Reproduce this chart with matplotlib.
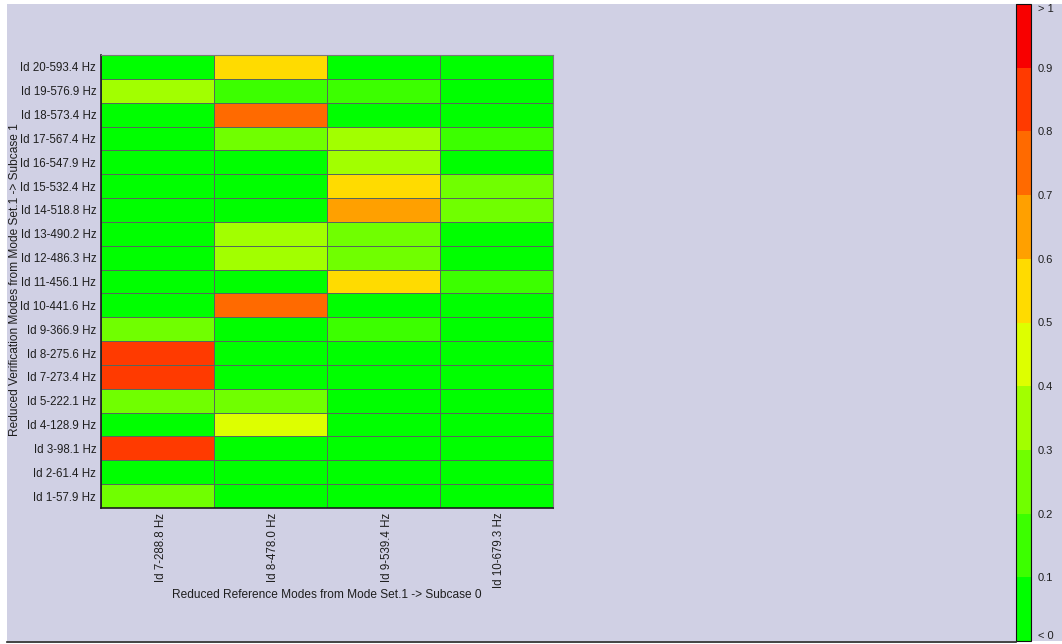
import numpy as np
import matplotlib
matplotlib.use("Agg")
import matplotlib.pyplot as plt
import matplotlib.transforms as mtransforms
from matplotlib.colors import ListedColormap, BoundaryNorm
from matplotlib.patches import Rectangle
from matplotlib.lines import Line2D

plt.rcParams["font.family"] = ["Liberation Sans", "DejaVu Sans"]

# Verification modes (rows, bottom to top) and reference modes (columns)
row_labels = ["Id 1-57.9 Hz", "Id 2-61.4 Hz", "Id 3-98.1 Hz", "Id 4-128.9 Hz",
              "Id 5-222.1 Hz", "Id 7-273.4 Hz", "Id 8-275.6 Hz", "Id 9-366.9 Hz",
              "Id 10-441.6 Hz", "Id 11-456.1 Hz", "Id 12-486.3 Hz", "Id 13-490.2 Hz",
              "Id 14-518.8 Hz", "Id 15-532.4 Hz", "Id 16-547.9 Hz", "Id 17-567.4 Hz",
              "Id 18-573.4 Hz", "Id 19-576.9 Hz", "Id 20-593.4 Hz"]
col_labels = ["Id 7-288.8 Hz", "Id 8-478.0 Hz", "Id 9-539.4 Hz", "Id 10-679.3 Hz"]

# MAC values per reference mode, ordered like row_labels
mac_id7 = [0.25, 0.03, 0.86, 0.05, 0.24, 0.85, 0.87, 0.22, 0.02, 0.01,
           0.04, 0.03, 0.02, 0.01, 0.03, 0.06, 0.02, 0.35, 0.04]
mac_id8 = [0.05, 0.02, 0.01, 0.45, 0.26, 0.03, 0.02, 0.06, 0.74, 0.04,
           0.36, 0.34, 0.02, 0.03, 0.05, 0.23, 0.76, 0.15, 0.55]
mac_id9 = [0.01, 0.02, 0.03, 0.01, 0.04, 0.02, 0.01, 0.13, 0.05, 0.56,
           0.25, 0.27, 0.66, 0.57, 0.33, 0.35, 0.04, 0.14, 0.02]
mac_id10 = [0.02, 0.01, 0.03, 0.02, 0.01, 0.03, 0.02, 0.04, 0.05, 0.17,
            0.06, 0.08, 0.24, 0.26, 0.07, 0.12, 0.03, 0.09, 0.05]

cbar_labels = ["< 0", "0.1", "0.2", "0.3", "0.4", "0.5", "0.6", "0.7", "0.8", "0.9", "> 1"]

band_colors = ["#00ff00", "#3cff00", "#70ff00", "#a2ff00", "#ddff00",
               "#ffdb00", "#ffa000", "#ff6a00", "#ff3a00", "#f80000"]
bounds = np.linspace(0.0, 1.0, 11)
cmap = ListedColormap(band_colors)
norm = BoundaryNorm(bounds, cmap.N)

mac = np.column_stack([mac_id7, mac_id8, mac_id9, mac_id10])

W, H = 1062, 644
fig = plt.figure(figsize=(W / 100, H / 100), dpi=100, facecolor="white")

# Panel background and bottom rule
fig.patches.append(Rectangle((7 / W, 3 / H), 1 - 7 / W, 1 - 7 / H,
                             transform=fig.transFigure, facecolor="#d0d0e4",
                             edgecolor="none", zorder=-10))
fig.lines.append(Line2D([7 / W, 1016 / W], [2.5 / H, 2.5 / H],
                        transform=fig.transFigure, color="#222222", lw=1.2))

ax = fig.add_axes([101 / W, (H - 508) / H, 452 / W, 453 / H])
ax.set_facecolor("#d0d0e4")
x = np.arange(len(col_labels) + 1)
y = np.arange(len(row_labels) + 1)
ax.pcolormesh(x, y, mac, cmap=cmap, norm=norm, edgecolors="#56685a", linewidth=0.6)
ax.set_xlim(0, len(col_labels))
ax.set_ylim(0, len(row_labels))

ax.set_yticks(np.arange(len(row_labels)) + 0.5)
ax.set_yticklabels(row_labels, fontsize=8.3, color="#1e1e1e")
ax.set_xticks(np.arange(len(col_labels)) + 0.5)
ax.set_xticklabels(col_labels, fontsize=8.3, color="#1e1e1e", rotation=90, va="top")
ax.tick_params(length=0, pad=3.5)
shift = mtransforms.ScaledTranslation(3 / 100, 0, fig.dpi_scale_trans)
for t in ax.get_xticklabels():
    t.set_transform(t.get_transform() + shift)

for side in ["top", "right"]:
    ax.spines[side].set_color("#7a7a7a")
    ax.spines[side].set_linewidth(0.8)
for side in ["bottom", "left"]:
    ax.spines[side].set_color("#1a1a1a")
    ax.spines[side].set_linewidth(1.2)

ax.set_xlabel("Reduced Reference Modes from Mode Set.1 -> Subcase 0",
              fontsize=8.6, color="#1e1e1e", va="center")
ax.xaxis.set_label_coords(0.5, -0.192)
ax.set_ylabel("Reduced Verification Modes from Mode Set.1 -> Subcase 1",
              fontsize=8.6, color="#1e1e1e", va="center")
ax.yaxis.set_label_coords(-0.19, 0.505)

# Discrete colour scale
cax = fig.add_axes([1016 / W, 3 / H, 15 / W, 637 / H])
cb = fig.colorbar(plt.cm.ScalarMappable(norm=norm, cmap=cmap), cax=cax,
                  boundaries=bounds, ticks=bounds, drawedges=False)
cb.outline.set_edgecolor("#111111")
cb.outline.set_linewidth(0.8)
cb.ax.set_yticklabels(cbar_labels, fontsize=8, color="#1e1e1e")
cb.ax.tick_params(length=0, pad=5)
labels = cb.ax.get_yticklabels()
labels[0].set_va("bottom")
labels[-1].set_va("top")

fig.savefig("out.png", dpi=100, facecolor=fig.get_facecolor())
